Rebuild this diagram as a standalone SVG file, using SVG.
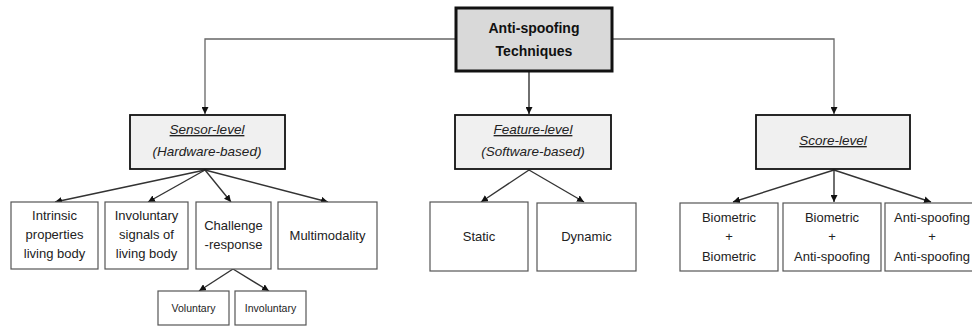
<svg xmlns="http://www.w3.org/2000/svg" width="972" height="327" viewBox="0 0 972 327">
<style>
text{font-family:"Liberation Sans",Arial,sans-serif;fill:#222;text-anchor:middle}
.t{font-size:13px}
.s{font-size:10.5px}
.h{font-size:14px;font-weight:bold;fill:#111}
.l{font-size:13.5px;font-style:italic}
.u{text-decoration:underline}
.leaf{fill:#fff;stroke:#555;stroke-width:1.2}
.lvl{fill:#f0f0f0;stroke:#111;stroke-width:1.8}
.root{fill:#d9d9d9;stroke:#111;stroke-width:3}
.c{fill:none;stroke:#333;stroke-width:1.4}
.ct{fill:none;stroke:#666;stroke-width:1.3}
</style>
<defs>
<marker id="a" viewBox="0 0 10 10" refX="10" refY="5" markerWidth="7" markerHeight="7" markerUnits="userSpaceOnUse" orient="auto">
<path d="M0,0L10,5L0,10z" fill="#111"/>
</marker>
</defs>
<g id="connectors">
<path class="ct" d="M456,39H205V114" marker-end="url(#a)"/>
<path class="ct" d="M612,39H834V114" marker-end="url(#a)"/>
<path class="c" d="M529,71V114" marker-end="url(#a)"/>
<path class="c" d="M205,170L55,202" marker-end="url(#a)"/>
<path class="c" d="M205,170L148,202" marker-end="url(#a)"/>
<path class="c" d="M205,170L231,202" marker-end="url(#a)"/>
<path class="c" d="M205,170L328,202" marker-end="url(#a)"/>
<path class="c" d="M233,269L199,291" marker-end="url(#a)"/>
<path class="c" d="M233,269L269,291" marker-end="url(#a)"/>
<path class="c" d="M529,170L481,202" marker-end="url(#a)"/>
<path class="c" d="M529,170L584,202" marker-end="url(#a)"/>
<path class="c" d="M834,170L733,202" marker-end="url(#a)"/>
<path class="c" d="M834,170V202" marker-end="url(#a)"/>
<path class="c" d="M834,170L931,202" marker-end="url(#a)"/>
</g>
<g id="root">
<rect class="root" x="456" y="8" width="156" height="63"/>
<text class="h" x="534" y="33">Anti-spoofing</text>
<text class="h" x="534" y="56">Techniques</text>
</g>
<g id="sensor">
<rect class="lvl" x="130" y="115" width="155" height="54"/>
<text class="l u" x="207" y="134">Sensor-level</text>
<text class="l" x="207" y="156">(Hardware-based)</text>
</g>
<g id="feature">
<rect class="lvl" x="455" y="115" width="156" height="54"/>
<text class="l u" x="533" y="134">Feature-level</text>
<text class="l" x="533" y="156">(Software-based)</text>
</g>
<g id="score">
<rect class="lvl" x="756" y="115" width="154" height="54"/>
<text class="l u" x="833" y="145">Score-level</text>
</g>
<g id="intrinsic">
<rect class="leaf" x="11" y="202" width="87" height="67"/>
<text class="t" x="54.5" y="220">Intrinsic</text>
<text class="t" x="54.5" y="239">properties</text>
<text class="t" x="54.5" y="258">living body</text>
</g>
<g id="involuntary-signals">
<rect class="leaf" x="105" y="202" width="83" height="67"/>
<text class="t" x="146.5" y="220">Involuntary</text>
<text class="t" x="146.5" y="239">signals of</text>
<text class="t" x="146.5" y="258">living body</text>
</g>
<g id="challenge">
<rect class="leaf" x="196" y="202" width="75" height="67"/>
<text class="t" x="233.5" y="230">Challenge</text>
<text class="t" x="233.5" y="249">-response</text>
</g>
<g id="multimodality">
<rect class="leaf" x="278" y="202" width="99" height="67"/>
<text class="t" x="327.5" y="240">Multimodality</text>
</g>
<g id="voluntary">
<rect class="leaf" x="158" y="291" width="71" height="34"/>
<text class="s" x="193.5" y="312">Voluntary</text>
</g>
<g id="involuntary">
<rect class="leaf" x="235" y="291" width="71" height="34"/>
<text class="s" x="270.5" y="312">Involuntary</text>
</g>
<g id="static">
<rect class="leaf" x="430" y="202" width="98" height="69"/>
<text class="t" x="479" y="241">Static</text>
</g>
<g id="dynamic">
<rect class="leaf" x="537" y="203" width="99" height="68"/>
<text class="t" x="586.5" y="241">Dynamic</text>
</g>
<g id="bio-bio">
<rect class="leaf" x="680" y="203" width="98" height="68"/>
<text class="t" x="729" y="222">Biometric</text>
<text class="t" x="729" y="241">+</text>
<text class="t" x="729" y="261">Biometric</text>
</g>
<g id="bio-anti">
<rect class="leaf" x="783" y="203" width="98" height="68"/>
<text class="t" x="832" y="222">Biometric</text>
<text class="t" x="832" y="241">+</text>
<text class="t" x="832" y="261">Anti-spoofing</text>
</g>
<g id="anti-anti">
<rect class="leaf" x="885" y="203" width="92" height="68"/>
<text class="t" x="932" y="222">Anti-spoofing</text>
<text class="t" x="932" y="241">+</text>
<text class="t" x="932" y="261">Anti-spoofing</text>
</g>
</svg>
